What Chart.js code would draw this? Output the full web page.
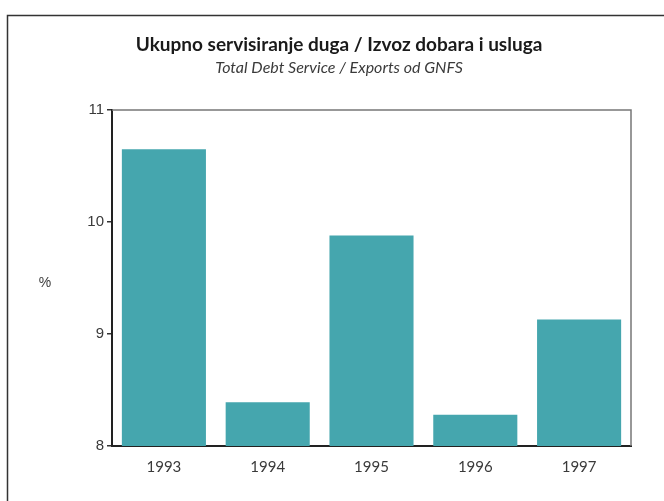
<!DOCTYPE html>
<html>
<head>
<meta charset="utf-8">
<script src="https://cdn.jsdelivr.net/npm/chart.js@4"></script>
<style>
  html, body { margin: 0; padding: 0; background: #fff; }
  #wrap { width: 664px; height: 501px; position: relative; }
</style>
</head>
<body>
<div id="wrap"><canvas id="debtChart" width="664" height="501"></canvas></div>
<script>
// data
const years = ['1993', '1994', '1995', '1996', '1997'];
const debtService = [10.65, 8.39, 9.88, 8.28, 9.13];
const yTicks = [8, 9, 10, 11];

const titleText = 'Ukupno servisiranje duga / Izvoz dobara i usluga';
const subtitleText = 'Total Debt Service / Exports od GNFS';
const unitText = '%';

const barColor = '#45a6ae';
const textColor = '#3a3a3a';

// outer frame, the thin box round the plot and the "%" label
const framePlugin = {
    id: 'frame',
    beforeDraw(chart) {
        const c = chart.ctx;
        c.save();
        c.strokeStyle = '#333';
        c.lineWidth = 1.5;
        c.beginPath();
        c.moveTo(7.5, chart.height);
        c.lineTo(7.5, 15.5);
        c.lineTo(chart.width, 15.5);
        c.stroke();
        c.restore();
    },
    afterDatasetsDraw(chart) {
        const a = chart.chartArea;
        const c = chart.ctx;
        c.save();
        c.strokeStyle = '#777';
        c.lineWidth = 1.5;
        c.beginPath();
        c.moveTo(a.left, a.top);
        c.lineTo(a.right, a.top);
        c.lineTo(a.right, a.bottom);
        c.stroke();
        c.fillStyle = textColor;
        c.font = '14px "Liberation Sans", Arial, sans-serif';
        c.textAlign = 'center';
        c.textBaseline = 'middle';
        c.fillText(unitText, 45, (a.top + a.bottom) / 2 + 5);
        c.restore();
    }
};

const ctx = document.getElementById('debtChart').getContext('2d');
const debtChart = new Chart(ctx, {
    type: 'bar',
    data: {
        labels: years,
        datasets: [{
            data: debtService,
            backgroundColor: barColor,
            borderWidth: 0,
            barPercentage: 0.9,
            categoryPercentage: 0.9
        }]
    },
    options: {
        responsive: false,
        animation: false,
        layout: { padding: { left: 14, right: 0, top: 0, bottom: 0 } },
        plugins: {
            legend: { display: false },
            tooltip: { enabled: false },
            title: {
                display: true,
                text: titleText,
                color: '#1a1a1a',
                font: { family: 'Lato', size: 19, weight: 'bold', lineHeight: 1.2 },
                padding: { top: 33, bottom: 2 }
            },
            subtitle: {
                display: true,
                text: subtitleText,
                color: textColor,
                font: { family: 'Lato', size: 16, style: 'italic', lineHeight: 1.2 },
                padding: { top: 0, bottom: 33 }
            }
        },
        scales: {
            x: {
                grid: { display: false },
                border: { display: true, color: '#222', width: 2 },
                ticks: {
                    color: textColor,
                    font: { family: 'Lato', size: 15 },
                    padding: 4
                },
                afterFit(scale) { scale.height = 55; }
            },
            y: {
                min: 8,
                max: 11,
                afterBuildTicks(scale) {
                    scale.ticks = yTicks.map(v => ({ value: v }));
                },
                grid: {
                    drawOnChartArea: false,
                    drawTicks: true,
                    tickLength: 5,
                    color: '#333',
                    lineWidth: 1.5
                },
                border: { display: true, color: '#222', width: 2 },
                ticks: {
                    color: textColor,
                    font: { family: 'Liberation Sans', size: 15 },
                    padding: 3
                },
                afterFit(scale) { scale.width = 98; }
            },
            // empty right axis, only keeps the right margin
            yRight: {
                position: 'right',
                min: 8,
                max: 11,
                grid: { display: false },
                border: { display: false },
                ticks: { display: false },
                afterFit(scale) { scale.width = 33; }
            }
        }
    },
    plugins: [framePlugin]
});
</script>
</body>
</html>
